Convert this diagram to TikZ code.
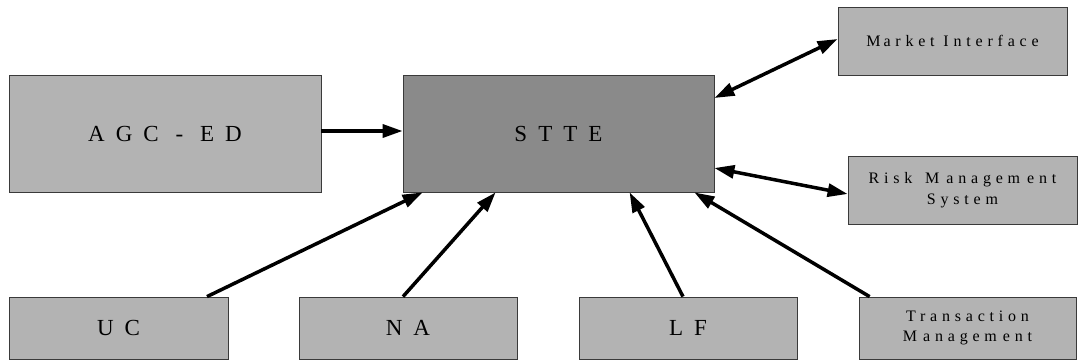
\documentclass[tikz,border=0pt]{standalone}
\usepackage{fontspec}
\setmainfont{Liberation Serif}
\newfontfamily\bigsp[LetterSpace=48]{Liberation Serif}
\newfontfamily\smallsp[LetterSpace=30]{Liberation Serif}
\usetikzlibrary{arrows.meta}
\definecolor{boxgray}{HTML}{B3B3B3}
\definecolor{coregray}{HTML}{8A8A8A}
\definecolor{edgegray}{HTML}{3A3A3A}
\tikzset{
  block/.style={draw=edgegray, line width=0.8pt, fill=boxgray, inner sep=0pt, align=center},
  bigtext/.style={font=\bigsp\fontsize{23}{27}\selectfont},
  smalltext/.style={font=\smallsp\fontsize{16}{20.5}\selectfont},
  link/.style={line width=3.5pt, -{Triangle[length=20pt,width=13pt]}},
  duplex/.style={line width=3.5pt, {Triangle[length=20pt,width=13pt]}-{Triangle[length=20pt,width=13pt]}}
}
\begin{document}
\begin{tikzpicture}[x=1pt,y=-1pt]
\useasboundingbox (0,0) rectangle (1080,362);
% upper row
\node[block, bigtext, minimum width=312pt, minimum height=117pt] (agc) at (165,133.5) {AGC - ED};
\node[block, bigtext, fill=coregray, minimum width=311pt, minimum height=117pt] (stte) at (558.5,133.5) {STTE};
\node[block, smalltext, minimum width=229pt, minimum height=68pt] (mi) at (952.5,41) {M\kern3pt arket Interface};
\node[block, smalltext, minimum width=229pt, minimum height=68pt] (rms) at (962.5,190) {Risk\kern4pt\ M\kern7pt anagem\kern7pt ent\\System};
% lower row
\node[block, bigtext, minimum width=219pt, minimum height=62pt] (uc) at (118.5,328) {UC};
\node[block, bigtext, minimum width=218pt, minimum height=62pt] (na) at (408,328) {NA};
\node[block, bigtext, minimum width=218pt, minimum height=62pt] (lf) at (688,328) {LF};
\node[block, smalltext, minimum width=217pt, minimum height=62pt] (tm) at (967.5,328) {Transaction\\M\kern6pt anagem\kern6pt ent};
% connectors into the core
\draw[link] ([yshift=2.5pt]agc.east) -- ([yshift=2.5pt]stte.west);
\draw[link] ([xshift=88.5pt]uc.north) -- ([xshift=20pt]stte.south west);
\draw[link] ([xshift=-5pt]na.north) -- ([xshift=93pt]stte.south west);
\draw[link] ([xshift=-5pt]lf.north) -- ([xshift=227pt]stte.south west);
\draw[link] ([xshift=11pt]tm.north west) -- ([xshift=-20pt]stte.south east);
% two-way links
\draw[duplex] ([yshift=35.5pt]stte.east) -- ([yshift=2pt]mi.west);
\draw[duplex] ([yshift=-34.5pt]stte.east) -- ([yshift=-4pt]rms.west);
\end{tikzpicture}
\end{document}
